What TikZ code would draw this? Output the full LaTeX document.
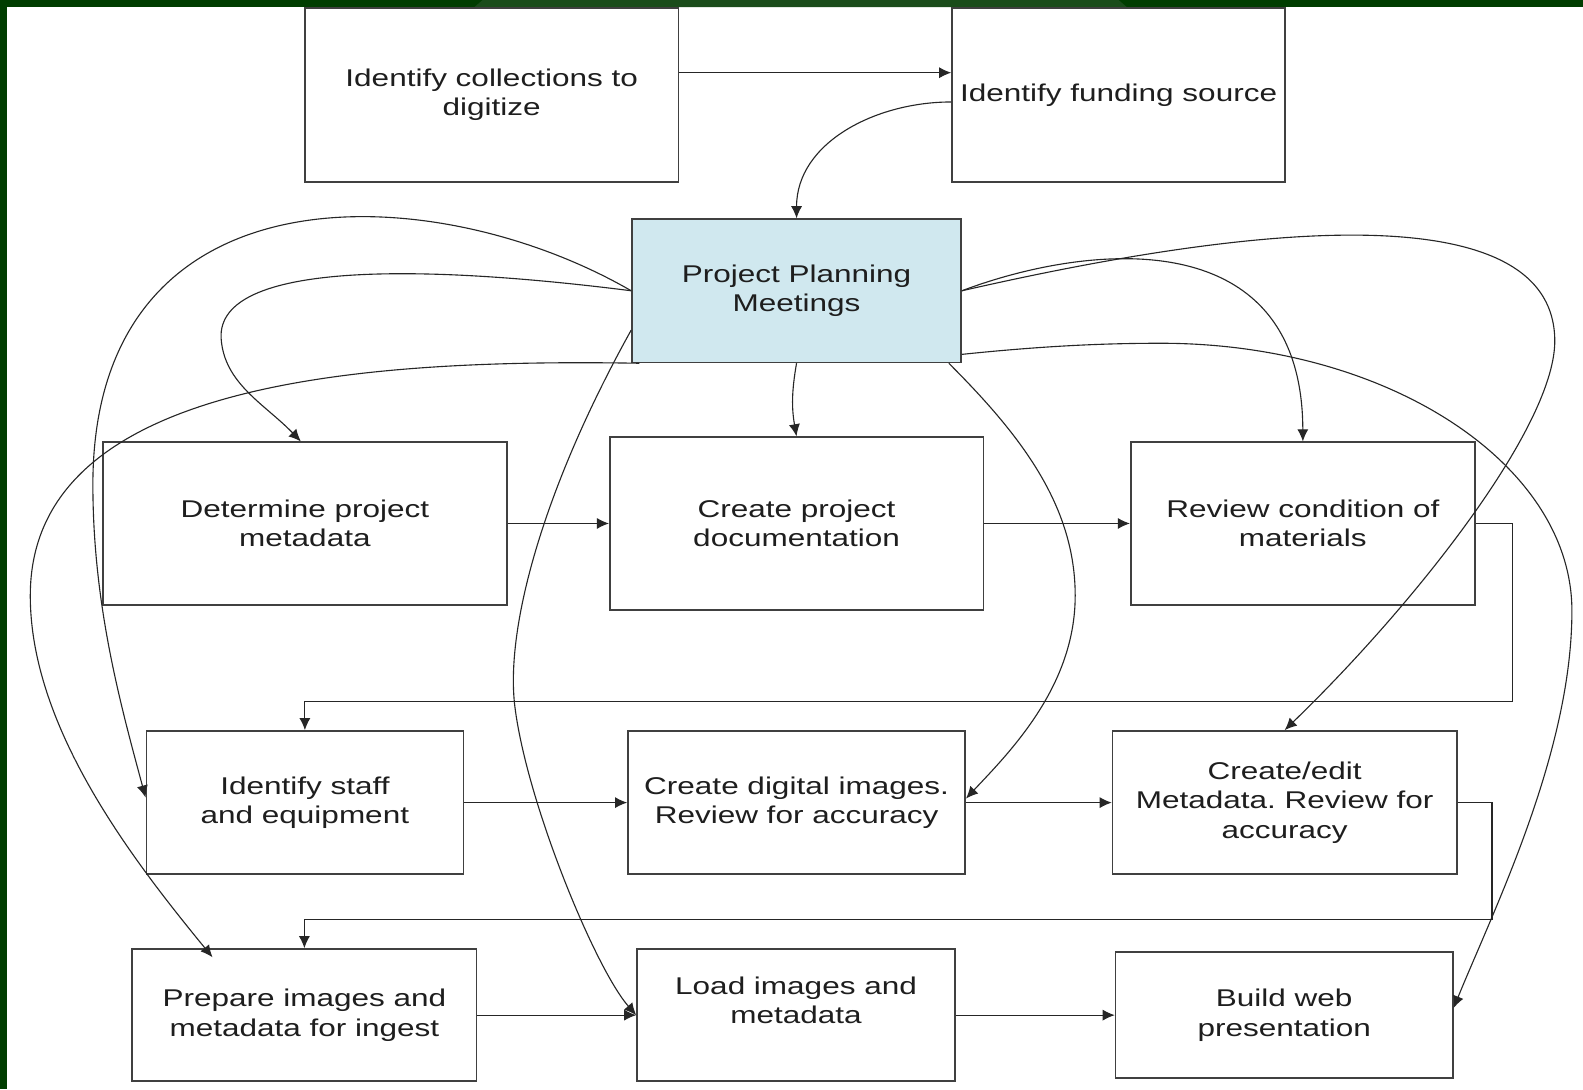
\documentclass[tikz,border=0pt]{standalone}
\usepackage{fontspec}
\setmainfont[FakeStretch=1.3]{Liberation Sans}
\usepackage{tikz}
\usetikzlibrary{arrows.meta}
\definecolor{slidegreen}{RGB}{0,61,0}
\definecolor{slidelight}{RGB}{26,76,26}
\definecolor{meetblue}{RGB}{208,232,239}
\definecolor{boxgray}{RGB}{64,64,64}
\definecolor{inkgray}{RGB}{30,30,30}
\frenchspacing

\begin{document}
\begin{tikzpicture}[x=1pt,y=-1pt,>={Latex[length=12pt,width=11pt]},
  task/.style={draw=boxgray,line width=1.6pt,fill=white,inner sep=0pt,align=center,text=inkgray,font=\fontsize{24}{29}\selectfont},
  link/.style={->,line width=1.1pt,draw=black!85}]
\useasboundingbox (0,0) rectangle (1568,1079);
\fill [white] (0,0) rectangle (1568,1079);
\fill [slidegreen] (0,0) rectangle (1568,7);
\fill [slidegreen] (0,0) rectangle (7,1079);
\fill [slidelight] (470,7) -- (478,0) -- (1108,0) -- (1116,7) -- cycle;
%
\node [task,minimum width=370pt,minimum height=172pt] (coll) at (487,94) {Identify collections to\\digitize};
\node [task,minimum width=330pt,minimum height=172pt] (fund) at (1108,94) {Identify funding source};
\node [task,fill=meetblue,minimum width=326pt,minimum height=142pt] (meet) at (789,288) {Project Planning\\Meetings};
\node [task,minimum width=400pt,minimum height=161pt] (det) at (302,518.5) {Determine project\\metadata};
\node [task,minimum width=370pt,minimum height=171pt] (doc) at (789,518.5) {Create project\\documentation};
\node [task,minimum width=341pt,minimum height=161pt] (rev) at (1290.5,518.5) {Review condition of\\materials};
\node [task,minimum width=314pt,minimum height=142pt] (staff) at (302,795) {Identify staff\\and equipment};
\node [task,minimum width=334pt,minimum height=142pt] (digi) at (789,795) {Create digital images.\\Review for accuracy};
\node [task,minimum width=341pt,minimum height=142pt] (meta) at (1272.5,795) {Create/edit\\Metadata. Review for\\accuracy};
\node [task,minimum width=341pt,minimum height=131pt] (prep) at (301.5,1005.5) {Prepare images and\\metadata for ingest};
\node [task,minimum width=315pt,minimum height=131pt] (load) at (788.5,1005.5) {};
\node [task,draw=none,fill=none] (loadtext) at ([yshift=15pt]load.center) {Load images and\\metadata};
\node [task,minimum width=334pt,minimum height=125pt] (build) at (1272,1005.5) {Build web\\presentation};
%
\draw [link] ([yshift=22pt]coll.east) -- ([yshift=22pt]fund.west);
\draw [link] ([yshift=-7pt]fund.west) [out=180,in=90] to (meet.north);
\draw [link] (meet.south) [bend right=10] to (doc.north);
\draw [link] (det.east) -- (doc.west);
\draw [link] (doc.east) -- (rev.west);
\draw [link] (rev.east) -- ++(36,0) |- ([yshift=28pt]staff.north) -- (staff.north);
\draw [link] (staff.east) -- (digi.west);
\draw [link] (digi.east) -- (meta.west);
\draw [link] (meta.east) -- ++(34,0) |- ([yshift=28pt]prep.north) -- (prep.north);
\draw [link] (prep.east) -- (load.west);
\draw [link] (load.east) -- (build.west);
%
\draw [link] (meet.west) .. controls (430,175) and (92,160) .. (92,480) .. controls (92,600) and (120,700) .. ([yshift=5pt]staff.west);
\draw [link] (meet.west) .. controls (420,262) and (215,258) .. (219,335) .. controls (222,380) and (262,400) .. ([xshift=-4pt]det.north);
\draw [link] ([xshift=8pt]meet.south west) .. controls (350,355) and (30,380) .. (30,590) .. controls (30,720) and (130,850) .. ([xshift=-91pt,yshift=-9pt]prep.north);
\draw [link] ([yshift=-39pt]meet.west) .. controls (540,480) and (500,620) .. (510,700) .. controls (522,796) and (590,960) .. (load.west);
\draw [link] (meet.east) .. controls (1080,240) and (1290,220) .. (rev.north);
\draw [link] (meet.east) .. controls (1120,250) and (1535,165) .. (1540,335) .. controls (1543,420) and (1400,600) .. (meta.north);
\draw [link] ([yshift=-63pt]meet.east) .. controls (1030,343) and (1090,340) .. (1150,340) .. controls (1375,340) and (1557,460) .. (1557,605) .. controls (1557,745) and (1480,900) .. ([yshift=7pt]build.east);
\draw [link] ([xshift=-13pt]meet.south east) .. controls (1010,430) and (1065,500) .. (1065,590) .. controls (1065,680) and (1000,745) .. ([yshift=4pt]digi.east);
\end{tikzpicture}
\end{document}
